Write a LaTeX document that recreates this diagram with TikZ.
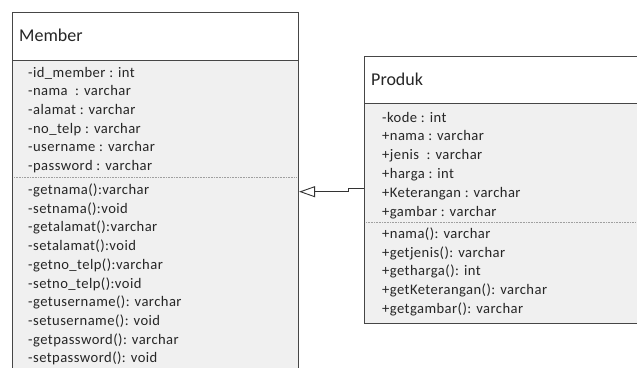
\documentclass[tikz,border=0pt]{standalone}
\usepackage{fontspec}
\setmainfont{Carlito}
\usetikzlibrary{arrows.meta}
\begin{document}
\begin{tikzpicture}[x=1pt,y=-1pt,
  classbox/.style={draw=gray!55!black, line width=1.1pt, fill=gray!12, inner sep=0pt, anchor=north west},
  headbox/.style={draw=gray!55!black, line width=1.1pt, fill=white, inner sep=0pt, anchor=north west},
  title/.style={anchor=base west, inner sep=0pt, text=black!85, font=\fontsize{18}{20}\selectfont},
  member/.style={anchor=base west, inner sep=0pt, text=black!85, font=\fontsize{14.6}{17}\selectfont\addfontfeature{LetterSpace=3}},
  sep/.style={draw=gray!75, line width=0.9pt, dash pattern=on 0.8pt off 0.8pt},
  inherit/.style={draw=gray!40!black, line width=0.9pt, -{Triangle[open, length=16pt, width=11pt]}}
]
\useasboundingbox (0,0) rectangle (637,367);
\clip (0,0) rectangle (637,367);

% ---- class Member ----
\node[classbox, minimum width=286pt, minimum height=380pt] (memberbox) at (12,11.5) {};
\node[headbox, minimum width=286pt, minimum height=48.5pt] (memberhead) at (12,11.5) {};
\node[title] (membertitle) at (19,41.5) {Member};
\path[sep] (14,177.5) -- (296,177.5);
\foreach \t [count=\i from 0] in {%
  -id\_member : int, -nama~ : varchar, -alamat : varchar, -no\_telp : varchar,
  -username : varchar, -password : varchar}
  \node[member] (ma\i) at (28,77+18.7*\i) {\t};
\foreach \t [count=\i from 0] in {%
  -getnama():varchar, -setnama():void, -getalamat():varchar, -setalamat():void,
  -getno\_telp():varchar, -setno\_telp():void, -getusername(): varchar,
  -setusername(): void, -getpassword(): varchar, -setpassword(): void}
  \node[member] (mm\i) at (28,194.5+18.7*\i) {\t};

% ---- class Produk ----
\node[classbox, minimum width=273pt, minimum height=267pt] (produkbox) at (364,55.5) {};
\node[headbox, minimum width=273pt, minimum height=47.5pt] (produkhead) at (364,55.5) {};
\node[title] (produktitle) at (371,85) {Produk};
\path[sep] (366,222) -- (635,222);
\foreach \t [count=\i from 0] in {%
  -kode : int, +nama : varchar, +jenis~ : varchar, +harga : int,
  +Keterangan : varchar, +gambar : varchar}
  \node[member] (pa\i) at (382,122+18.8*\i) {\t};
\foreach \t [count=\i from 0] in {%
  +nama(): varchar, +getjenis(): varchar, +getharga(): int,
  +getKeterangan(): varchar, +getgambar(): varchar}
  \node[member] (pm\i) at (382,238.5+18.7*\i) {\t};

% ---- generalisation Produk -> Member ----
\coordinate (src) at (produkbox.west |- 0,188.5);
\coordinate (bendA) at (348,188.5);
\coordinate (bendB) at (348,191.7);
\coordinate (dst) at (memberbox.east |- 0,191.7);
\draw[inherit] (src) -- (bendA) -- (bendB) -- (dst);
\end{tikzpicture}
\end{document}
